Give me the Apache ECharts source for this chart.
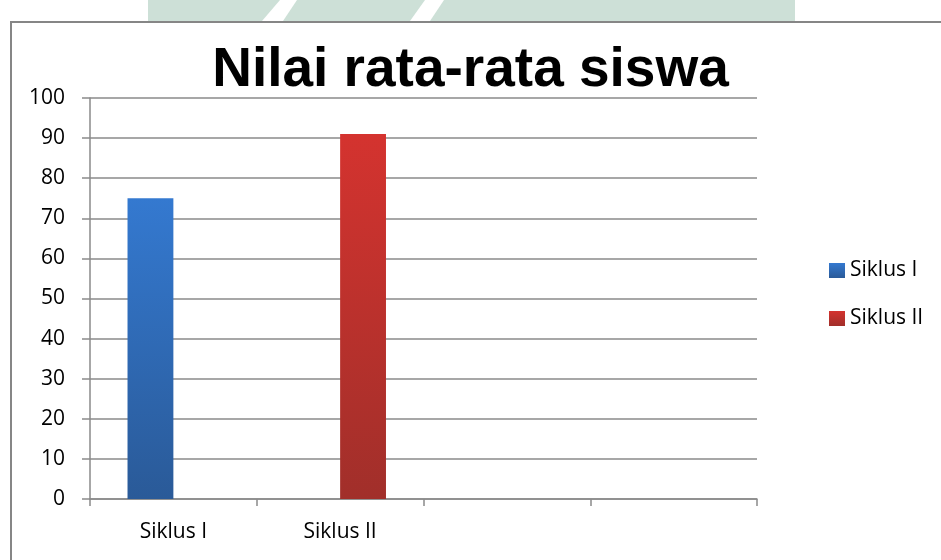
<!DOCTYPE html>
<html>
<head>
<meta charset="utf-8">
<script src="https://cdn.jsdelivr.net/npm/echarts@6/dist/echarts.min.js"></script>
<style>html,body{margin:0;padding:0;background:#fff}#c{width:941px;height:560px}</style>
</head>
<body>
<div id="c"></div>
<script>
var titleText = "Nilai rata-rata siswa";
var categories = ["Siklus I", "Siklus II", "", ""];
var seriesNames = ["Siklus I", "Siklus II"];
var siklus1 = [75, '-', '-', '-'];
var siklus2 = ['-', 91, '-', '-'];
var yTicks = {min: 0, max: 100, interval: 10};

var font = "'Open Sans', 'Liberation Sans', sans-serif";
var gridColor = '#8a8a8a';

var chart = echarts.init(document.getElementById('c'), null, {renderer: 'canvas'});
chart.setOption({
  backgroundColor: '#ffffff',
  animation: false,
  graphic: [
    {type: 'rect', shape: {x: 148, y: 0, width: 647, height: 21}, style: {fill: '#cde0d7'}, z: 0},
    {type: 'polygon', shape: {points: [[280, 0], [297, 0], [283, 21], [262, 21]]}, style: {fill: '#ffffff'}, z: 1},
    {type: 'polygon', shape: {points: [[425, 0], [444, 0], [430, 21], [410, 21]]}, style: {fill: '#ffffff'}, z: 1},
    {type: 'rect', shape: {x: 11, y: 22, width: 1000, height: 600}, style: {fill: 'none', stroke: '#868686', lineWidth: 2}, z: 2}
  ],
  title: {
    text: titleText,
    left: 'center',
    top: 38,
    textStyle: {fontFamily: "'Liberation Sans', Arial, sans-serif", fontWeight: 'bold', fontSize: 55, color: '#000'}
  },
  legend: {
    orient: 'vertical',
    left: 824,
    top: 255,
    itemWidth: 16,
    itemHeight: 15,
    itemGap: 27,
    icon: 'rect',
    textStyle: {fontFamily: font, fontSize: 21, color: '#000'},
    data: seriesNames
  },
  grid: {left: 90, right: 184, top: 98, bottom: 61, containLabel: false},
  xAxis: {
    type: 'category',
    data: categories,
    boundaryGap: true,
    axisLine: {lineStyle: {color: gridColor, width: 1.5}},
    axisTick: {show: true, length: 7, alignWithLabel: false, lineStyle: {color: gridColor, width: 1.5}},
    axisLabel: {fontFamily: font, fontSize: 21, color: '#000', margin: 23, interval: 0},
    splitLine: {show: false}
  },
  yAxis: {
    type: 'value',
    min: yTicks.min,
    max: yTicks.max,
    interval: yTicks.interval,
    axisLine: {show: true, lineStyle: {color: gridColor, width: 1.5}},
    axisTick: {show: true, length: 8, lineStyle: {color: gridColor, width: 1.5}},
    axisLabel: {fontFamily: font, fontSize: 21, color: '#000', margin: 25},
    splitLine: {show: true, lineStyle: {color: gridColor, width: 1.5}}
  },
  series: [
    {
      name: seriesNames[0], type: 'bar', data: siklus1,
      barGap: '0%', barCategoryGap: '45%',
      itemStyle: {color: new echarts.graphic.LinearGradient(0, 0, 0, 1, [
        {offset: 0, color: '#3479d0'}, {offset: 1, color: '#2a5a98'}])}
    },
    {
      name: seriesNames[1], type: 'bar', data: siklus2,
      barGap: '0%', barCategoryGap: '45%',
      itemStyle: {color: new echarts.graphic.LinearGradient(0, 0, 0, 1, [
        {offset: 0, color: '#d4332f'}, {offset: 1, color: '#a12f2a'}])}
    }
  ]
});
</script>
</body>
</html>
